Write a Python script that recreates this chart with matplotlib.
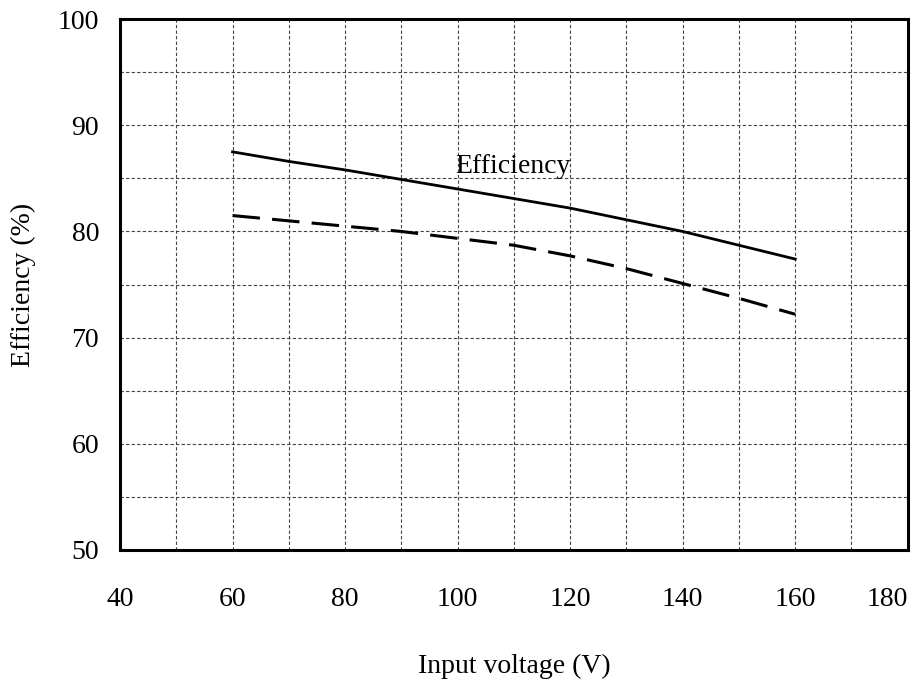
import numpy as np
from matplotlib import pyplot as plt

# Data
voltage = [60, 70, 80, 90, 100, 110, 120, 130, 140, 150, 160]
eff_solid = [87.5, 86.6, 85.8, 84.9, 84.0, 83.1, 82.2, 81.1, 80.0, 78.7, 77.4]
eff_dashed = [81.5, 81.0, 80.5, 80.0, 79.35, 78.7, 77.7, 76.5, 75.1, 73.7, 72.2]

x_major = [40, 60, 80, 100, 120, 140, 160, 180]
y_major = [50, 60, 70, 80, 90, 100]

plt.rcParams['font.family'] = ['Liberation Serif', 'DejaVu Serif']

fig = plt.figure(figsize=(9.16, 6.84), dpi=100)
ax = fig.add_axes([0.131, 0.196, 0.860, 0.776])

ax.plot(voltage, eff_solid, color='black', lw=2.0)
ax.plot(voltage, eff_dashed, color='black', lw=2.2, dashes=(9, 4))
ax.text(99.5, 86.1, 'Efficiency', fontsize=20, ha='left', va='center')

ax.set_xlim(40, 180)
ax.set_ylim(50, 100)
ax.set_xticks(x_major)
ax.set_xticks(np.arange(50, 180, 20), minor=True)
ax.set_yticks(y_major)
ax.set_yticks(np.arange(55, 100, 10), minor=True)
ax.grid(True, which='both', color='#444444', ls=(0, (3, 2)), lw=0.8)
ax.tick_params(which='both', length=0, labelsize=20)
ax.tick_params(axis='x', pad=27)
ax.tick_params(axis='y', pad=15)
for s in ax.spines.values():
    s.set_linewidth(2.2)

# last x label sits left of its tick, as in the reference
xlabels = ax.get_xticklabels()
xlabels[-1].set_horizontalalignment('right')

ax.set_xlabel('Input voltage (V)', fontsize=20, labelpad=30)
ax.set_ylabel('Efficiency (%)', fontsize=20, labelpad=16)

fig.savefig('out.png', dpi=100)
